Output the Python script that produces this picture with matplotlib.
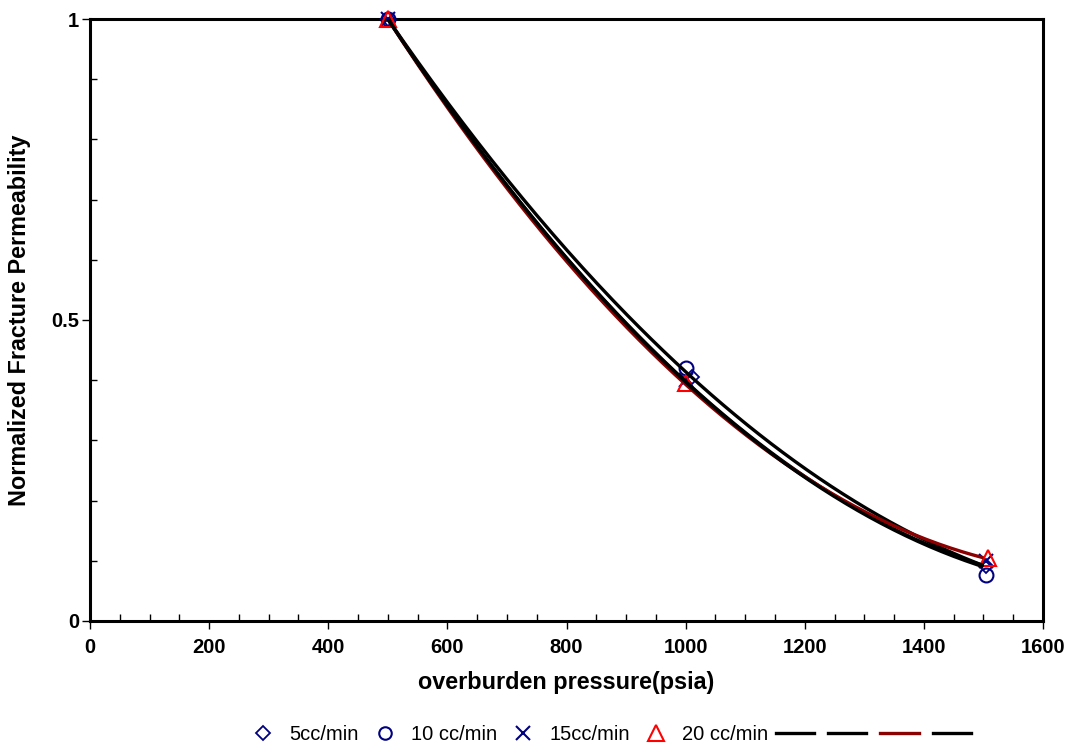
import numpy as np
import matplotlib
matplotlib.use("Agg")
import matplotlib.pyplot as plt
from matplotlib.lines import Line2D
from matplotlib.ticker import MultipleLocator

plt.rcParams['font.family'] = ['Liberation Sans', 'DejaVu Sans']

# Measured points for each flow rate
pressure_5 = [500, 1010, 1505]
perm_5 = [1.0, 0.405, 0.092]
pressure_10 = [500, 1000, 1505]
perm_10 = [1.0, 0.42, 0.077]
pressure_15 = [500, 1000, 1505]
perm_15 = [1.0, 0.40, 0.10]
pressure_20 = [500, 1000, 1507]
perm_20 = [1.0, 0.395, 0.105]

# Second-order trend curves (anchor values at 500, 1000 and 1500 psia)
trend_x = [500, 1000, 1500]
trend_a = [1.0, 0.414, 0.092]
trend_b = [1.0, 0.398, 0.092]
trend_c = [1.0, 0.393, 0.105]
trend_d = [1.0, 0.397, 0.090]
trend_colors = ['black', 'black', '#8B0000', 'black']

series_labels = ['5cc/min', '10 cc/min', '15cc/min', '20 cc/min']
x_ticks = [0, 200, 400, 600, 800, 1000, 1200, 1400, 1600]
y_ticks = [0, 0.5, 1]

fig = plt.figure(figsize=(10.7, 7.46), dpi=100)
ax = fig.add_axes([0.0841, 0.1676, 0.8907, 0.8069])

navy = '#000080'
ax.plot(pressure_5, perm_5, ls='none', marker='D', ms=7, mfc='none', mec=navy, mew=1.3, clip_on=False, zorder=3)
ax.plot(pressure_10, perm_10, ls='none', marker='o', ms=10, mfc='none', mec=navy, mew=1.5, clip_on=False, zorder=3)
ax.plot(pressure_15, perm_15, ls='none', marker='x', ms=10, mfc='none', mec=navy, mew=1.5, clip_on=False, zorder=3)
ax.plot(pressure_20, perm_20, ls='none', marker='^', ms=12, mfc='none', mec='red', mew=1.5, clip_on=False, zorder=3)

xs = np.linspace(trend_x[0], trend_x[-1], 200)
for vals, col in zip([trend_a, trend_b, trend_c, trend_d], trend_colors):
    coef = np.polyfit(trend_x, vals, 2)
    ax.plot(xs, np.polyval(coef, xs), color=col, lw=2.4, zorder=4, solid_capstyle='butt')

ax.set_xlim(0, 1600)
ax.set_ylim(0, 1)
ax.set_xticks(x_ticks)
ax.set_yticks(y_ticks)
ax.set_yticklabels(['0', '0.5', '1'])
ax.xaxis.set_minor_locator(MultipleLocator(50))
ax.yaxis.set_minor_locator(MultipleLocator(0.1))
ax.tick_params(axis='both', which='major', direction='out', length=6, width=1.0,
               labelsize=14.5)
ax.tick_params(axis='x', which='major', pad=6)
ax.tick_params(axis='y', which='major', pad=2)
ax.tick_params(axis='both', which='minor', direction='in', length=5, width=1.0)
for lab in ax.get_xticklabels() + ax.get_yticklabels():
    lab.set_fontweight('bold')
for sp in ax.spines.values():
    sp.set_linewidth(2.2)

ax.set_xlabel('overburden pressure(psia)', fontsize=16.8, fontweight='bold', labelpad=10)
ax.set_ylabel('Normalized Fracture Permeability', fontsize=16.8, fontweight='bold')
ax.yaxis.set_label_coords(-0.062, 0.5)

handles = [
    Line2D([], [], ls='none', marker='D', ms=7, mfc='none', mec=navy, mew=1.3),
    Line2D([], [], ls='none', marker='o', ms=9, mfc='none', mec=navy, mew=1.5),
    Line2D([], [], ls='none', marker='x', ms=10, mec=navy, mew=1.5),
    Line2D([], [], ls='none', marker='^', ms=11, mfc='none', mec='red', mew=1.5),
] + [Line2D([], [], color=c, lw=2.4) for c in trend_colors]
labels = series_labels + ['', '', '', '']
fig.legend(handles, labels, loc='center', bbox_to_anchor=(0.571, 0.016), ncol=8,
           frameon=False, fontsize=14.5, handlelength=1.9, handletextpad=0.35,
           columnspacing=0.35)

fig.savefig('out.png', dpi=100)
